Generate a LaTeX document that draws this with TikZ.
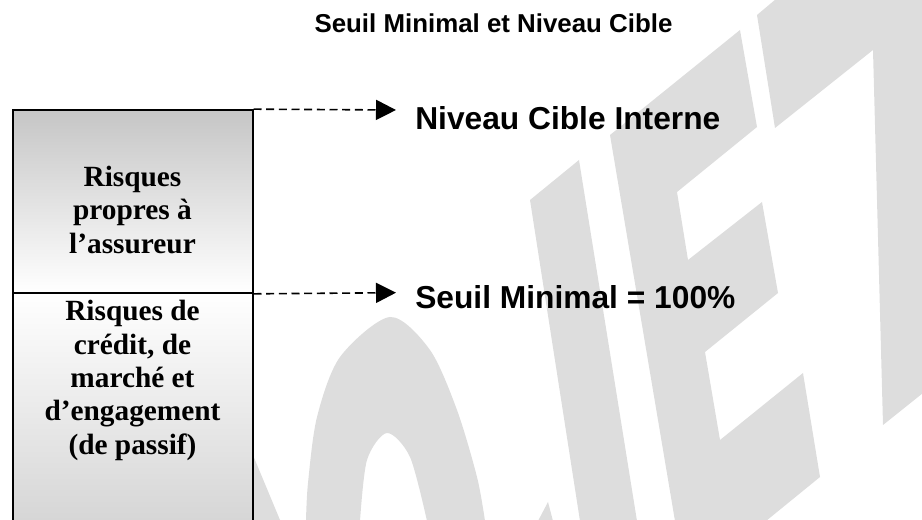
\documentclass[tikz,border=0pt]{standalone}
\usepackage{fontspec}
\setmainfont{Liberation Serif}
\newfontfamily\arialfont{Liberation Sans}
\usetikzlibrary{arrows.meta}
\definecolor{wm}{RGB}{221,221,221}
\begin{document}
\begin{tikzpicture}[x=0.75pt,y=-0.75pt,
  sect/.style={draw=black, line width=1.5pt, minimum width=180pt, inner sep=0pt},
  boxtext/.style={font=\fontsize{22}{25}\selectfont\bfseries, align=center, inner sep=0pt},
  lbl/.style={font=\arialfont\fontsize{23.8}{28}\selectfont\bfseries, anchor=base west, inner sep=0pt},
  darr/.style={dash pattern=on 6pt off 3.5pt, line width=1.2pt, -{Triangle[length=15pt,width=15pt]}}]
\useasboundingbox (0,0) rectangle (922,520);
\clip (0,0) rectangle (922,520);
% watermark letters
\fill[wm] (245,436) -- (280,520) -- (245,520) -- cycle;
\fill[wm, even odd rule] plot[smooth] coordinates {(306,521) (308,483) (317,417) (340,357) (390,317) (430,350) (457,410) (477,477) (485,521)} -- cycle
  plot[smooth] coordinates {(360,521) (367,460) (387,433) (410,457) (427,521)} -- cycle;
\fill[wm] (530,200) -- (579,160) -- (637,521) -- (580,521) -- cycle;
\fill[wm] (538,521) -- (548,502) -- (553,521) -- cycle;
\fill[wm] (610,135) -- (740,30) -- (757,127) -- (677,192) -- (688,260) -- (762,202) -- (778,293) -- (705,352) -- (720,440) -- (803,373) -- (820,477) -- (766,521) -- (675,521) -- cycle;
\fill[wm] (776,-1) -- (757,15) -- (775,128) -- (873,50) -- (883,425) -- (923,393) -- (923,-1) -- cycle;
% boxes
\node[sect, minimum height=137pt, top color=gray!45, bottom color=white] (top) at (132.5,201.5) {};
\node[sect, minimum height=186pt, top color=white, bottom color=gray!35] (bot) at (132.5,416.7) {};
\node[boxtext] (toptxt) at (132.5,210) {Risques\\propres à\\l’assureur};
\node[boxtext] (bottxt) at (132.5,380.5) {Risques de\\crédit, de\\marché et\\d’engagement\\(de passif)};
% arrows
\coordinate (a1) at (396,110);
\coordinate (a2) at (396,292.7);
\draw[darr] (top.north east) -- (a1);
\draw[darr] (top.south east) -- (a2);
% labels
\node[lbl] (nci) at (415,130) {Niveau Cible Interne};
\node[lbl] (smin) at (415,309) {Seuil Minimal = 100\%};
\node[font=\arialfont\fontsize{19.4}{23}\selectfont\bfseries, anchor=base, inner sep=0pt] (title) at (493.5,33) {Seuil Minimal et Niveau Cible};
\end{tikzpicture}
\end{document}
